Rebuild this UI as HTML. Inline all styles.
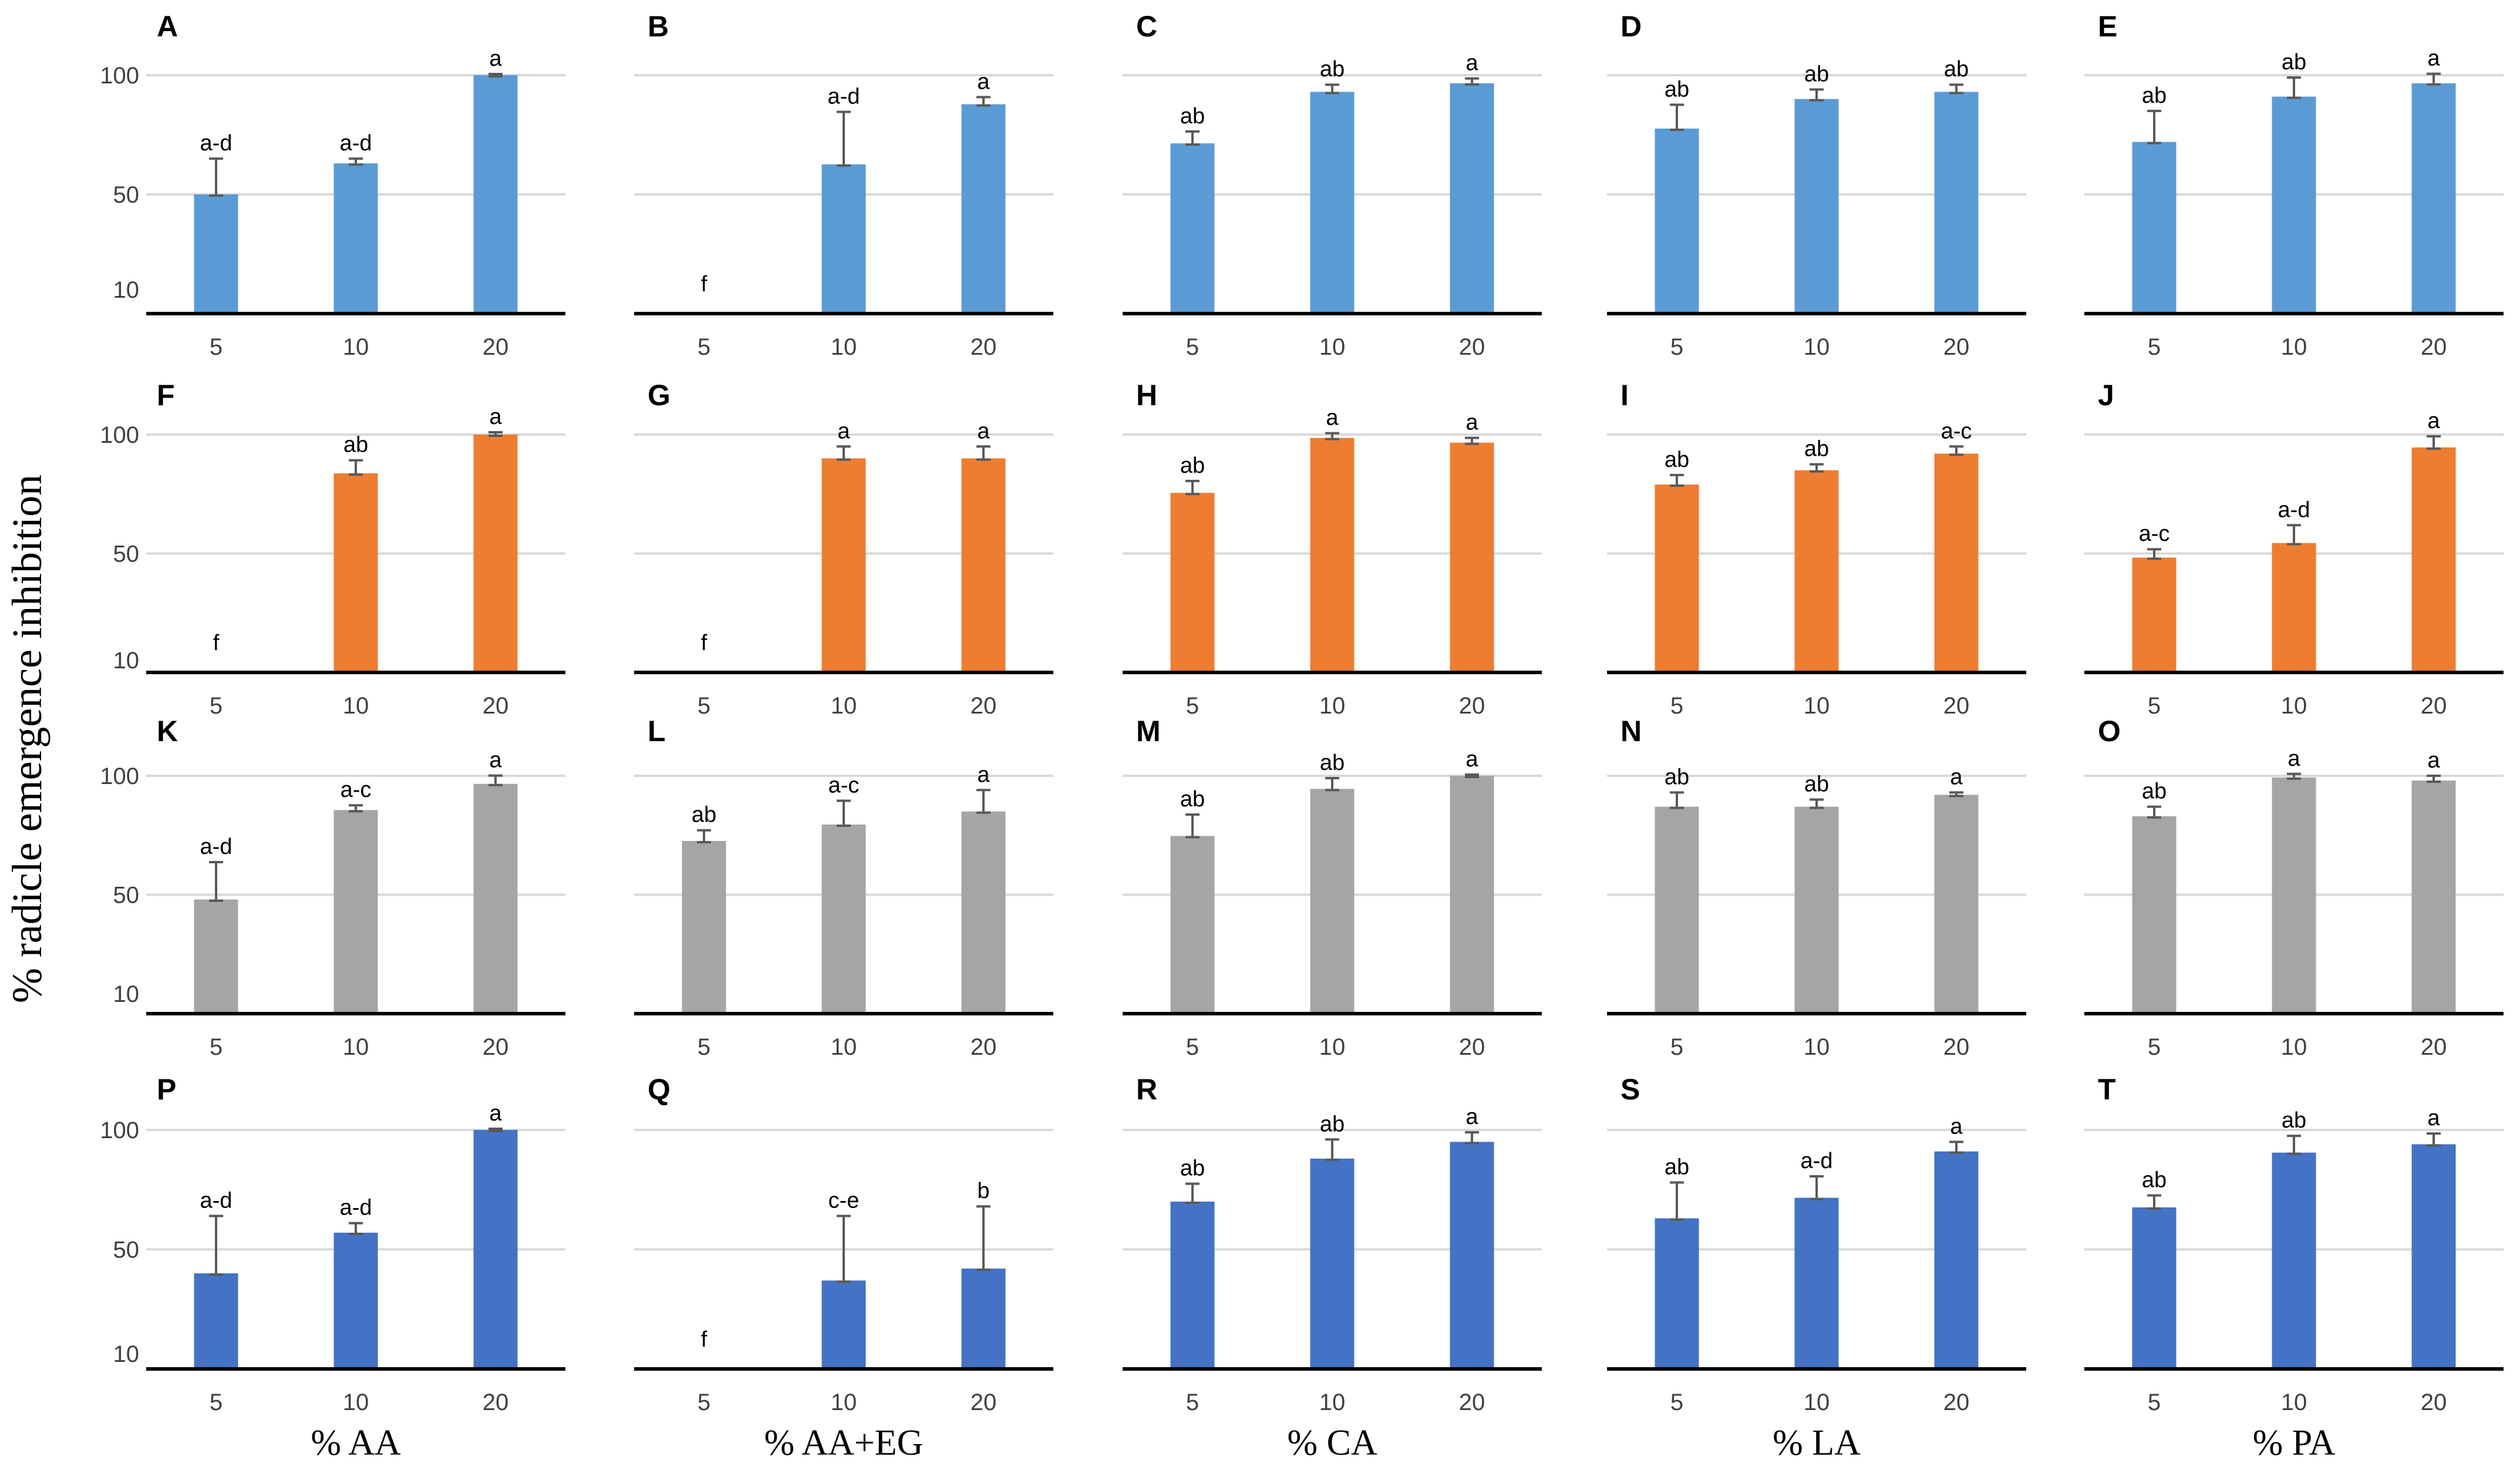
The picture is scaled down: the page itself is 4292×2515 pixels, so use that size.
<!DOCTYPE html>
<html><head><meta charset="utf-8">
<style>
html,body{margin:0;padding:0;background:#fff;}
svg{display:block;}
.lt{font-family:"Liberation Sans Narrow","Liberation Sans",sans-serif;}
.sf{font-family:"Liberation Serif",serif;}
</style></head>
<body>
<svg id="chart" width="4292" height="2515" viewBox="0 0 4292 2515" xmlns="http://www.w3.org/2000/svg">
<text class="sf" x="0" y="0" font-size="72" text-anchor="middle" fill="#000" transform="translate(70,1258) rotate(-90)">% radicle emergence inhibition</text>
</svg>
<script>
const categories = ["5","10","20"];
const panelLetters = [["A","B","C","D","E"],["F","G","H","I","J"],["K","L","M","N","O"],["P","Q","R","S","T"]];
const xTitles = ["% AA","% AA+EG","% CA","% LA","% PA"];
const yTicks = [100,50,10];
const rowColors = ["#5B9BD5","#ED7D31","#A5A5A5","#4472C4"];
const valsRow1 = [[50,63,100],[0,62.6,87.8],[71.4,93,96.6],[77.6,90,93],[72,91,96.6]];
const errsRow1 = [[15,2,0.5],[0,22,3],[5,3,2],[10,4,3],[13,8,4]];
const letsRow1 = [["a-d","a-d","a"],["f","a-d","a"],["ab","ab","a"],["ab","ab","ab"],["ab","ab","a"]];
const valsRow2 = [[0,83.7,100],[0,90,90],[75.5,98.6,96.6],[79,85,92],[48.3,54.4,94.6]];
const errsRow2 = [[0,5.5,1],[0,5,5],[5,2,2],[4,2.5,3],[3.5,7.5,4.7]];
const letsRow2 = [["f","ab","a"],["f","a","a"],["ab","a","a"],["ab","ab","a-c"],["a-c","a-d","a"]];
const valsRow3 = [[48,85.6,96.6],[72.6,79.5,85],[74.7,94.5,100],[87,87,92],[83,99.3,98]];
const errsRow3 = [[15.7,2,3.5],[4.5,10,9],[9,4.5,0.5],[6,3,1],[4,1.5,2]];
const letsRow3 = [["a-d","a-c","a"],["ab","a-c","a"],["ab","ab","a"],["ab","ab","a"],["ab","a","a"]];
const valsRow4 = [[40,57,100],[0,37,42],[70,88,95],[63,71.6,91],[67.6,90.5,94]];
const errsRow4 = [[24,4,0.5],[0,27,26],[7.5,8,4],[15,9,4],[5,7,4.5]];
const letsRow4 = [["a-d","a-d","a"],["f","c-e","b"],["ab","ab","a"],["ab","a-d","a"],["ab","ab","a"]];

const NS="http://www.w3.org/2000/svg";
const svg=document.getElementById('chart');
function mk(tag,attrs,parent){const e=document.createElementNS(NS,tag);for(const k in attrs)e.setAttribute(k,attrs[k]);(parent||svg).appendChild(e);return e;}

const panelX=[249,1080,1912,2737,3550];
const panelW=714;
const rowBase=[534,1145,1726,2331];
const rowTop100=[128,740,1321,1924];
const rowLetterY=[62,690,1262,1872];
const ten=[493,1124,1692,2305];
const allVals=[valsRow1,valsRow2,valsRow3,valsRow4];
const allErrs=[errsRow1,errsRow2,errsRow3,errsRow4];
const allLets=[letsRow1,letsRow2,letsRow3,letsRow4];

for(let r=0;r<4;r++){
  const base=rowBase[r], ppu=(base-rowTop100[r])/100;
  const yS=v=>base-v*ppu;
  for(let c=0;c<5;c++){
    const x0=panelX[c];
    const g=mk('g',{});
    
    
    const xS=i=>x0+panelW*(i+0.5)/3;
    [100,50].forEach(t=>{
      const gl=mk('line',{x1:x0,x2:x0+panelW,y1:yS(t),y2:yS(t),stroke:'#d9d9d9','stroke-width':4},g);
      
      
    });
    if(c===0){
      yTicks.forEach((t,k)=>{
        const yy = t===10 ? ten[r] : yS(t);
        const tl=mk('text',{x:x0-12,y:yy+14,'font-size':40,'text-anchor':'end',fill:'#404040',class:'lt'},g);
        tl.textContent=t;
        
        
      });
    }
    const lt=mk('text',{x:x0+18+(c===0?0:5),y:rowLetterY[r],'font-size':50,'font-weight':'bold',fill:'#000',class:'lt'},g);
    lt.textContent=panelLetters[r][c];
    
    
    for(let i=0;i<3;i++){
      const v=allVals[r][c][i], e=allErrs[r][c][i], cx=xS(i);
      if(v>0){
        const b=mk('rect',{x:cx-37.5,y:yS(v),width:75,height:base-yS(v),fill:rowColors[r]},g);
        
        
        const eg=mk('g',{stroke:'#595959','stroke-width':4},g);
        
        
        mk('line',{x1:cx,x2:cx,y1:yS(v+e),y2:yS(v)},eg);
        mk('line',{x1:cx-12,x2:cx+12,y1:yS(v+e),y2:yS(v+e)},eg);
        mk('line',{x1:cx-12,x2:cx+12,y1:yS(v)+2,y2:yS(v)+2},eg);
      }
      const ann=mk('text',{x:cx,y:v>0?yS(v+e)-14:base-38,'font-size':38,'text-anchor':'middle',fill:'#000',class:'lt'},g);
      ann.textContent=allLets[r][c][i];
      
      
      const xl=mk('text',{x:cx,y:base+70,'font-size':40,'text-anchor':'middle',fill:'#404040',class:'lt'},g);
      xl.textContent=categories[i];
      
      
    }
    const ax=mk('line',{x1:x0,x2:x0+panelW,y1:base,y2:base,stroke:'#000','stroke-width':6},g);
    
    
    if(r===3){
      const xt=mk('text',{x:x0+panelW/2,y:2477,'font-size':62,'text-anchor':'middle',fill:'#000',class:'sf'},g);
      xt.textContent=xTitles[c];
      
      
    }
  }
}
</script>
</body></html>
